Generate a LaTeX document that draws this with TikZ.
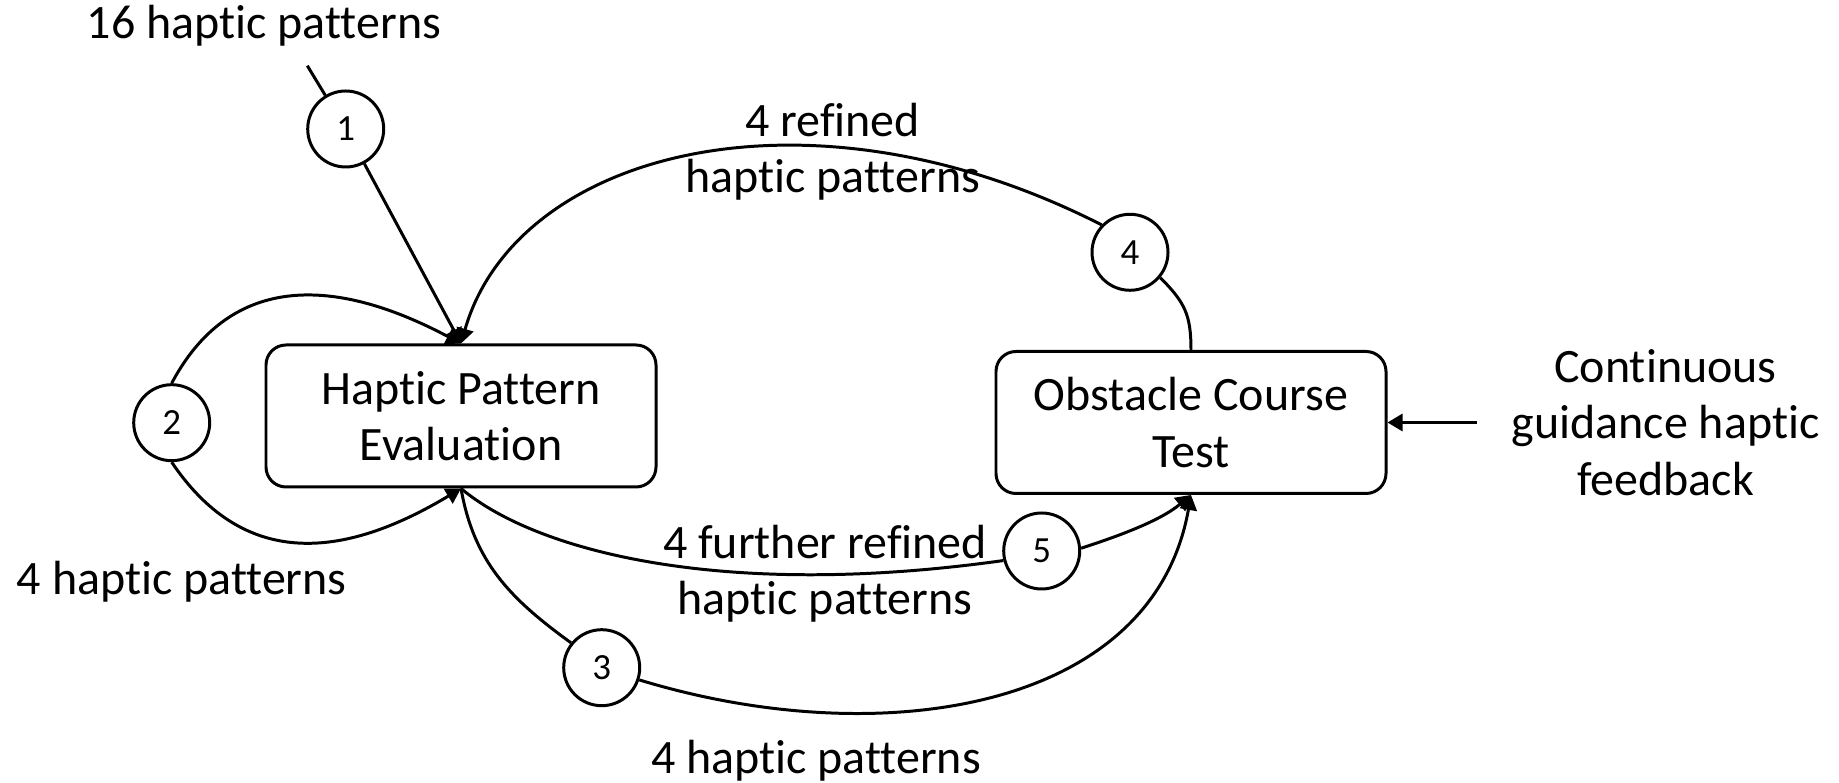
\documentclass[tikz,border=0pt]{standalone}
\usepackage{fontspec}
\setmainfont[Ligatures=NoCommon]{Carlito}
\usetikzlibrary{arrows.meta, positioning}

\begin{document}
\begin{tikzpicture}[
  node distance=1cm,
  line width=0.85pt,
  every node/.style={font=\fontsize{13.65}{16}\selectfont},
  stage/.style={draw, rounded corners=2mm, minimum width=3.9cm, minimum height=1.42cm, align=center},
  badge/.style={draw, circle, minimum size=0.76cm, inner sep=0pt, font=\fontsize{10.5}{12}\selectfont},
  note/.style={align=center},
  arrow/.style={-{Triangle[length=1.5mm,width=1.7mm]}}
]
\useasboundingbox (0,0) rectangle (18.39,7.83);

% The two test stages
\node[stage] (evaluation) at (4.61,3.67) {Haptic Pattern\\Evaluation};
\node[stage, right=3.37cm of evaluation, yshift=-0.065cm] (course) {Obstacle Course\\Test};
\node[note, right=1.11cm of course] (guidance) {Continuous\\guidance haptic\\feedback};

% Numbered steps
\node[badge] (s1) at (3.457,6.54) {1};
\node[badge] (s2) at (1.717,3.603) {2};
\node[badge] (s3) at (6.017,1.153) {3};
\node[badge] (s4) at (11.30,5.307) {4};
\node[badge] (s5) at (10.417,2.32) {5};

% Labels on the flows
\node[anchor=base] (start) at (2.64,7.44) {16 haptic patterns};
\node[anchor=base] (lbl2) at (1.818,1.88) {4 haptic patterns};
\node[note] (lbl4) at (8.327,6.31) {4 refined\\haptic patterns};
\node[note] (lbl5) at (8.25,2.09) {4 further refined\\haptic patterns};
\node[anchor=base] (lbl3) at (8.16,0.09) {4 haptic patterns};

% Step 1: initial set into the evaluation
\coordinate (entry) at (3.073,7.173);
\draw (entry) -- (s1);
\draw[arrow] (s1) -- (evaluation.north);

% Step 2: loop back onto the evaluation
\draw[arrow] (s2.north) .. controls +(62:1.2) and +(152:1.5) .. (evaluation.north);
\draw[arrow] (s2.south) .. controls +(-56:1.2) and +(-149:1.5) .. (evaluation.south);

% Step 3: evaluation -> course
\draw (evaluation.south) .. controls +(-80:0.75) and +(144:0.75) .. (s3.141);
\draw[arrow] (s3.-18) .. controls +(-17:2.5) and +(-100:2.2) .. (course.south);

% Step 4: course -> evaluation
\draw (course.north) .. controls +(90:0.35) and +(-45:0.35) .. (s4.-40);
\draw[arrow] (s4.136) .. controls +(153:3.3) and +(74:2.0) .. (evaluation.north);

% Step 5: evaluation -> course again
\draw (evaluation.south) .. controls +(-40:1.0) and +(188:2.8) .. (s5.194);
\draw[arrow] (s5.4) .. controls +(18:0.4) and +(-140:0.4) .. (course.south);

% Feedback during the course
\draw[arrow, shorten <=0.22cm] (guidance.west) -- (course.east);
\end{tikzpicture}
\end{document}
